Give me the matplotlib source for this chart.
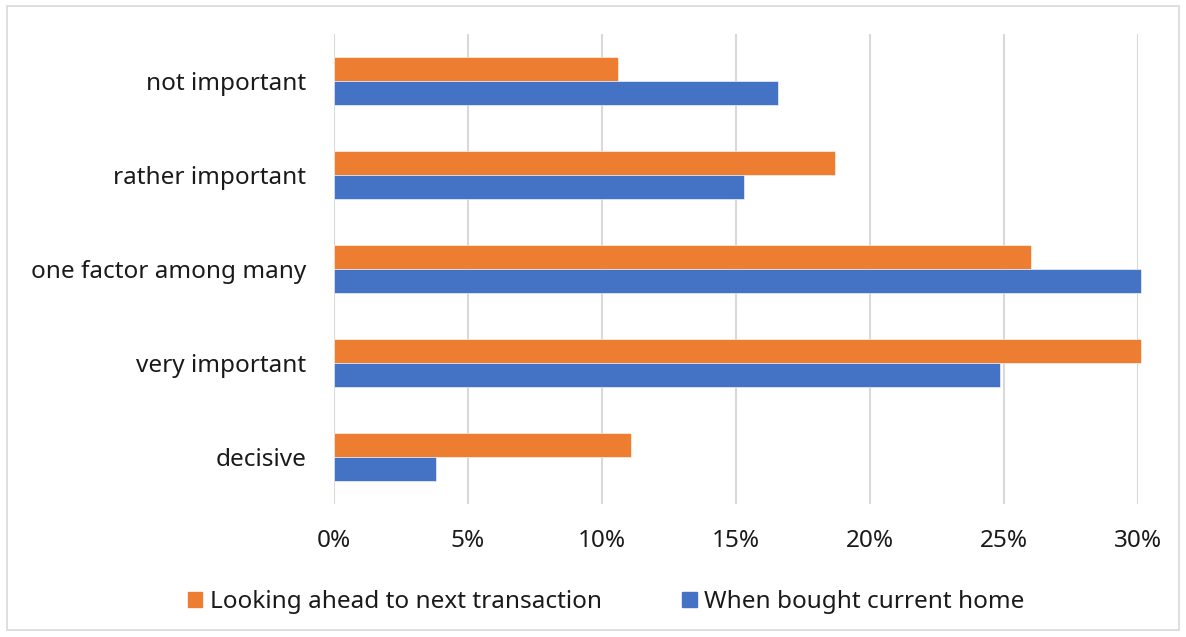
import numpy as np
import matplotlib
matplotlib.use("Agg")
import matplotlib.pyplot as plt
from matplotlib.patches import Rectangle, Patch

plt.rcParams['font.family'] = ['Noto Sans', 'DejaVu Sans']

# data, bottom category first
categories = ['decisive', 'very important', 'one factor among many',
              'rather important', 'not important']
looking_ahead = [11.1, 30.1, 26.0, 18.7, 10.6]
when_bought = [3.8, 24.85, 30.1, 15.3, 16.55]
series_names = ['Looking ahead to next transaction', 'When bought current home']
xticks = [0, 5, 10, 15, 20, 25, 30]

orange = '#ED7D31'
blue = '#4472C4'
grid_col = '#d9d9d9'
txt_col = '#1a1a1a'
fs = 17.5

fig = plt.figure(figsize=(11.86, 6.37), dpi=100)
ax = fig.add_axes([334 / 1186, 133 / 637, 804 / 1186, 470 / 637])

y = np.arange(len(categories))
h = 0.255
ax.barh(y + h / 2, looking_ahead, height=h, color=orange, edgecolor='white',
        linewidth=0.4, clip_on=False)
ax.barh(y - h / 2, when_bought, height=h, color=blue, edgecolor='white',
        linewidth=0.4, clip_on=False)

ax.set_xlim(0, 30)
ax.set_ylim(-0.5, len(categories) - 0.5)
ax.set_xticks(xticks)
ax.set_xticklabels([f'{t}%' for t in xticks], fontsize=fs, color=txt_col)
ax.set_yticks(y)
ax.set_yticklabels(categories, fontsize=fs, color=txt_col)
ax.tick_params(length=0)
ax.tick_params(axis='x', pad=18)
ax.tick_params(axis='y', pad=20)
ax.xaxis.grid(True, color=grid_col, linewidth=1.5)
ax.set_axisbelow(True)
for s in ax.spines.values():
    s.set_visible(False)

handles = [Patch(color=orange), Patch(color=blue)]
fig.legend(handles, series_names, loc='center', bbox_to_anchor=(606 / 1186, 1 - 602 / 637),
           ncol=2, frameon=False, fontsize=fs, handlelength=0.6, handleheight=0.6,
           handletextpad=0.3, columnspacing=3.3, labelcolor=txt_col)

# outer border
fig.patches.append(Rectangle((7 / 1186, 1 - 630 / 637), 1172 / 1186, 624 / 637,
                             transform=fig.transFigure, fill=False,
                             edgecolor=grid_col, linewidth=1.2))

fig.savefig('out.png', dpi=100)
